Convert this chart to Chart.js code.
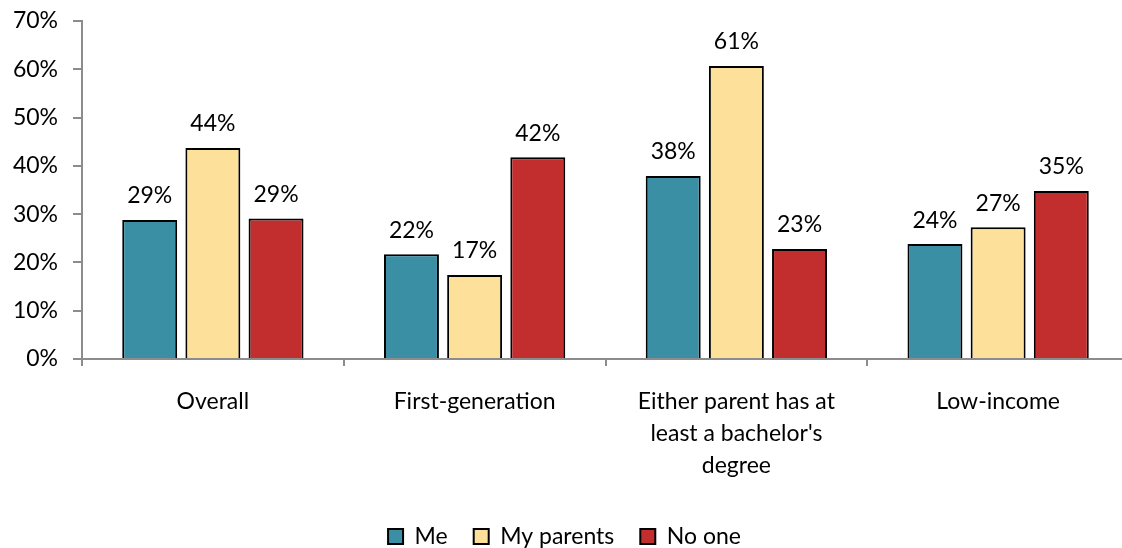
<!DOCTYPE html>
<html>
<head>
<meta charset="utf-8">
<script src="https://cdn.jsdelivr.net/npm/chart.js@4"></script>
<style>
  html, body { margin: 0; padding: 0; background: #fff; overflow: hidden; }
  #wrap { position: relative; width: 1140px; height: 548px; }
</style>
</head>
<body>
<div id="wrap"><canvas id="c"></canvas></div>
<script>
const categories = ['Overall', 'First-generation', ['Either parent has at', "least a bachelor's", 'degree'], 'Low-income'];
const seriesNames = ['Me', 'My parents', 'No one'];
const meValues = [28.8, 21.7, 37.9, 23.8];
const parentsValues = [43.7, 17.4, 60.7, 27.3];
const noOneValues = [29.1, 41.8, 22.8, 34.8];
const yTicks = [0, 10, 20, 30, 40, 50, 60, 70];

const FONT = 'Lato';
const FS = 23;

const valueLabels = {
  id: 'valueLabels',
  afterDatasetsDraw(chart) {
    const ctx = chart.ctx;
    ctx.save();
    ctx.font = FS + 'px ' + FONT;
    ctx.fillStyle = '#000';
    ctx.textAlign = 'center';
    ctx.textBaseline = 'middle';
    chart.data.datasets.forEach((ds, i) => {
      chart.getDatasetMeta(i).data.forEach((bar, j) => {
        ctx.fillText(Math.round(ds.data[j]) + '%', bar.x, bar.y - 24);
      });
    });
    ctx.restore();
  }
};

new Chart(document.getElementById('c'), {
  type: 'bar',
  data: {
    labels: categories,
    datasets: [
      { label: seriesNames[0], data: meValues, backgroundColor: '#3A8FA5', borderColor: '#000', borderWidth: 2 },
      { label: seriesNames[1], data: parentsValues, backgroundColor: '#FDE19A', borderColor: '#000', borderWidth: 2 },
      { label: seriesNames[2], data: noOneValues, backgroundColor: '#C22E2E', borderColor: '#000', borderWidth: 2 }
    ]
  },
  options: {
    responsive: true,
    maintainAspectRatio: false,
    animation: false,
    categoryPercentage: 0.724,
    barPercentage: 0.87,
    layout: { padding: { top: 21, right: 11, left: 0, bottom: -10 } },
    plugins: {
      legend: {
        position: 'bottom',
        labels: {
          font: { family: FONT, size: FS },
          color: '#000',
          boxWidth: 15,
          boxHeight: 15,
          padding: 26
        }
      },
      tooltip: { enabled: false }
    },
    scales: {
      y: {
        min: 0, max: 70,
        afterBuildTicks(scale) { scale.ticks = yTicks.map(v => ({ value: v })); },
        afterFit(scale) { scale.width = 82; scale.paddingTop = 0; scale.paddingBottom = 0; },
        border: { color: '#8c8c8c', width: 2 },
        grid: { drawOnChartArea: false, drawTicks: true, tickLength: 9, color: '#8c8c8c', lineWidth: 2 },
        ticks: { callback: v => v + '%', font: { family: FONT, size: FS }, color: '#000', padding: 15 }
      },
      x: {
        afterFit(scale) { scale.height = 140; },
        border: { color: '#8c8c8c', width: 2 },
        grid: { offset: true, drawOnChartArea: false, drawTicks: true, tickLength: 7, color: '#8c8c8c', lineWidth: 2 },
        ticks: { font: { family: FONT, size: FS, lineHeight: 1.39 }, color: '#000', padding: 20, maxRotation: 0, autoSkip: false }
      }
    }
  },
  plugins: [valueLabels]
});
</script>
</body>
</html>
